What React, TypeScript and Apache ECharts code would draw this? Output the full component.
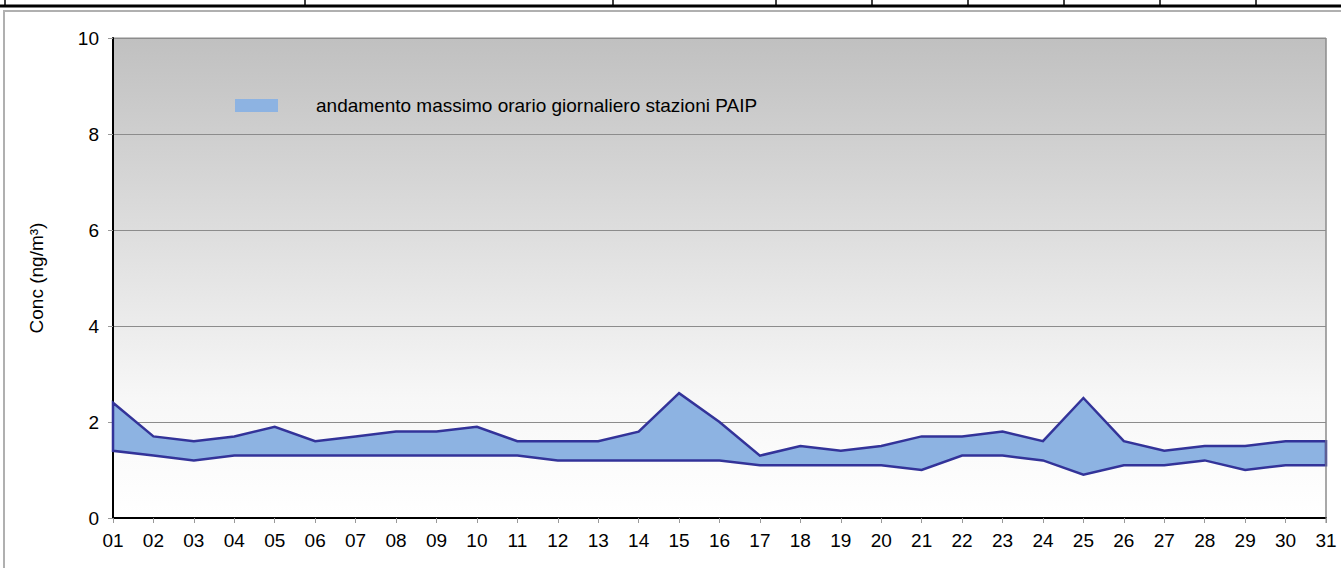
import React, { useEffect, useRef } from "react";
import * as echarts from "echarts";

const days = ["01","02","03","04","05","06","07","08","09","10","11","12","13","14","15","16","17","18","19","20","21","22","23","24","25","26","27","28","29","30","31"];
const upperValues = [2.4,1.7,1.6,1.7,1.9,1.6,1.7,1.8,1.8,1.9,1.6,1.6,1.6,1.8,2.6,2.0,1.3,1.5,1.4,1.5,1.7,1.7,1.8,1.6,2.5,1.6,1.4,1.5,1.5,1.6,1.6];
const lowerValues = [1.4,1.3,1.2,1.3,1.3,1.3,1.3,1.3,1.3,1.3,1.3,1.2,1.2,1.2,1.2,1.2,1.1,1.1,1.1,1.1,1.0,1.3,1.3,1.2,0.9,1.1,1.1,1.2,1.0,1.1,1.1];
const yTicks = { min: 0, max: 10, interval: 2 };
const seriesName = "andamento massimo orario giornaliero stazioni PAIP";
const axisTitle = "Conc (ng/m³)";
const tableColumnX = [5, 305, 613, 776, 872, 968, 1064, 1160, 1256];

export default function App() {
  const ref = useRef<HTMLDivElement>(null);
  useEffect(() => {
    if (!ref.current) return;
    const chart = echarts.init(ref.current, null, { renderer: "svg" });
    const font = "'Liberation Sans', Arial, sans-serif";
    const graphics: any[] = [
      { type: "rect", shape: { x: 4, y: 11, width: 1360, height: 600 }, style: { fill: "none", stroke: "#b0b0b0", lineWidth: 2 }, z: 0 },
      { type: "rect", shape: { x: 0, y: 4.5, width: 1341, height: 3 }, style: { fill: "#000" } },
      { type: "rect", shape: { x: 1325.5, y: 38, width: 1, height: 485 }, style: { fill: "#8c8c8c" }, z: 5 },
    ];
    tableColumnX.forEach((x) => {
      graphics.push({ type: "rect", shape: { x: x - 0.75, y: 0, width: 1.5, height: 6 }, style: { fill: "#000" } });
    });
    chart.setOption({
      animation: false,
      backgroundColor: "#fff",
      graphic: graphics,
      grid: {
        left: 113, right: 15, top: 38, bottom: 50,
        show: true,
        borderColor: "#8c8c8c",
        borderWidth: 1,
        backgroundColor: new echarts.graphic.LinearGradient(0, 0, 0, 1, [
          { offset: 0, color: "#c0c0c0" },
          { offset: 0.75, color: "#f7f7f7" },
          { offset: 1, color: "#ffffff" },
        ]),
      },
      legend: {
        left: 235, top: 96, padding: 0,
        itemWidth: 43, itemHeight: 13,
        icon: "rect",
        data: [seriesName],
        textStyle: { fontFamily: font, fontSize: 19, color: "#000", padding: [0, 0, 0, 33] },
      },
      xAxis: {
        type: "category",
        data: days,
        boundaryGap: false,
        axisLine: { lineStyle: { color: "#000", width: 2 } },
        axisTick: { show: true, length: 5, lineStyle: { color: "#999" } },
        axisLabel: { fontFamily: font, fontSize: 19, color: "#000", margin: 13, interval: 0 },
        splitLine: { show: false },
      },
      yAxis: {
        type: "value",
        min: yTicks.min, max: yTicks.max, interval: yTicks.interval,
        name: axisTitle,
        nameLocation: "middle",
        nameGap: 67,
        nameTextStyle: { fontFamily: font, fontSize: 19, color: "#000" },
        axisLine: { show: true, lineStyle: { color: "#000", width: 2 } },
        axisTick: { show: true, length: 5, lineStyle: { color: "#999" } },
        axisLabel: { fontFamily: font, fontSize: 19, color: "#000", margin: 14 },
        splitLine: { show: true, lineStyle: { color: "#8c8c8c", width: 1 } },
      },
      series: [
        {
          type: "custom",
          name: seriesName,
          itemStyle: { color: "#8DB3E2" },
          data: [0],
          renderItem: (params: any, api: any) => {
            const pts: number[][] = [];
            for (let i = 0; i < upperValues.length; i++) pts.push(api.coord([i, upperValues[i]]));
            for (let i = lowerValues.length - 1; i >= 0; i--) pts.push(api.coord([i, lowerValues[i]]));
            return {
              type: "polygon",
              shape: { points: pts },
              style: { fill: "#8DB3E2", stroke: "#333399", lineWidth: 2.5, lineJoin: "miter" },
            };
          },
        },
      ],
    });
    return () => chart.dispose();
  }, []);
  return <div ref={ref} style={{ position: "fixed", left: 0, top: 0, width: 1341, height: 568 }} />;
}
